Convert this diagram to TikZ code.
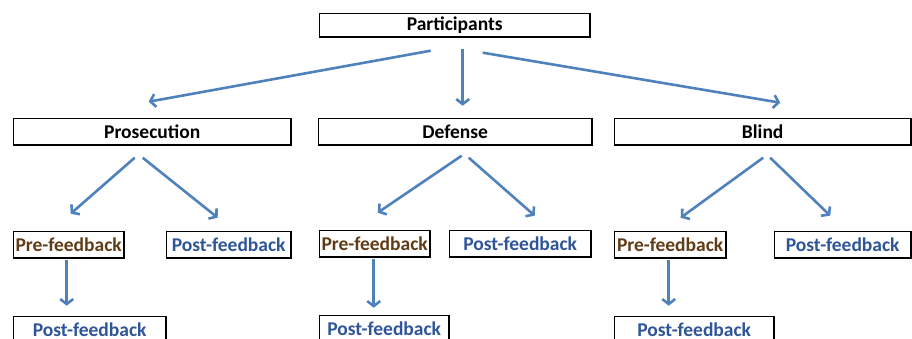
\documentclass[tikz,border=0pt]{standalone}
\usepackage{fontspec}
\setmainfont{Carlito}
\usetikzlibrary{arrows.meta}
\definecolor{linkblue}{RGB}{79,129,189}
\definecolor{prebrown}{RGB}{96,60,22}
\definecolor{postblue}{RGB}{47,85,151}

\begin{document}
\begin{tikzpicture}[x=1pt,y=-1pt,->,>={Straight Barb[length=5pt,width=13pt]},
  box/.style={draw,line width=1.4pt,anchor=north west,inner sep=0pt,
    minimum height=26.6pt,font=\bfseries\fontsize{19.5}{22}\selectfont},
  pre/.style={box,text=prebrown},
  post/.style={box,text=postblue},
  link/.style={linkblue,line width=2.6pt}]
 \useasboundingbox (0,0) rectangle (912,339);

 \node[box,minimum width=270.6pt,minimum height=23.6pt] (part) at (318.7,12.7) {Participants};

 \node[box,minimum width=277.6pt] (pros)  at (12.7,117.7)  {Prosecution};
 \node[box,minimum width=273.6pt] (def)   at (317.7,117.7) {Defense};
 \node[box,minimum width=296.6pt] (blind) at (613.7,117.7) {Blind};

 \node[pre,minimum width=110.6pt]  (prospre)   at (12.7,230.7)  {Pre-feedback};
 \node[post,minimum width=124.6pt] (prospost)  at (165.7,230.7) {Post-feedback};
 \node[post,minimum width=152.6pt] (prospost2) at (12.7,315.7)  {Post-feedback};

 \node[pre,minimum width=110.6pt]  (defpre)   at (318.7,229.7) {Pre-feedback};
 \node[post,minimum width=141.6pt] (defpost)  at (448.7,229.7) {Post-feedback};
 \node[post,minimum width=129.6pt] (defpost2) at (318.7,314.7) {Post-feedback};

 \node[pre,minimum width=111.6pt]  (blindpre)   at (613.7,230.7) {Pre-feedback};
 \node[post,minimum width=136.6pt] (blindpost)  at (773.7,230.7) {Post-feedback};
 \node[post,minimum width=159.6pt] (blindpost2) at (613.7,315.7) {Post-feedback};

 % top level
 \path[link] ([shift={(-24,13)}]part.south) edge ([shift={(-3.5,-16)}]pros.north)
             ([shift={(8,11)}]part.south)   edge ([shift={(7.5,-12)}]def.north)
             ([shift={(28,15)}]part.south)  edge ([shift={(17.5,-15)}]blind.north);

 % groups
 \path[link] ([shift={(-17.5,12)}]pros.south) edge ([shift={(2,-17)}]prospre.north)
             ([shift={(-9.5,12)}]pros.south)  edge ([shift={(-11,-13)}]prospost.north)
             ([shift={(-2,1)}]prospre.south)  edge ([shift={(-23,-10)}]prospost2.north)
             ([shift={(6.5,10)}]def.south)    edge ([shift={(3,-17)}]defpre.north)
             ([shift={(13.5,12)}]def.south)   edge ([shift={(14.5,-14)}]defpost.north)
             ([shift={(-1,1)}]defpre.south)   edge ([shift={(-10.5,-7)}]defpost2.north)
             ([shift={(0.5,12)}]blind.south)  edge ([shift={(10.5,-13)}]blindpre.north)
             ([shift={(7.5,12)}]blind.south)  edge ([shift={(-12.5,-15)}]blindpost.north)
             ([shift={(-1.5,1)}]blindpre.south) edge ([shift={(-25.5,-10)}]blindpost2.north);
\end{tikzpicture}
\end{document}
